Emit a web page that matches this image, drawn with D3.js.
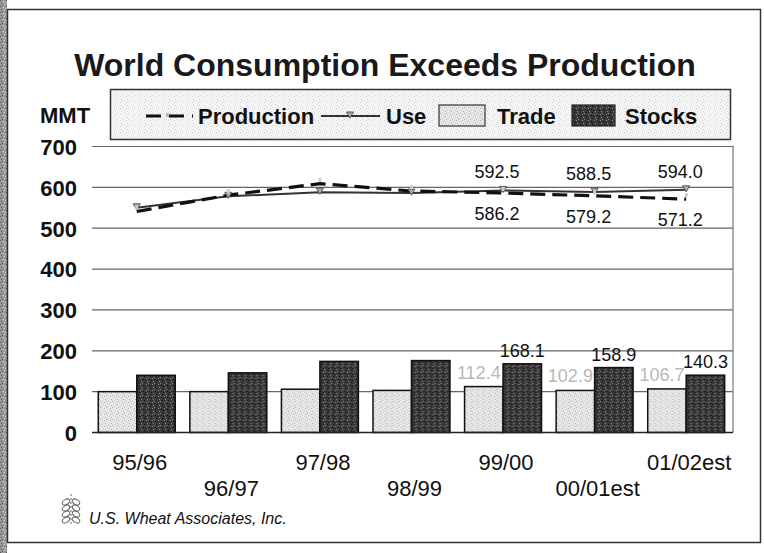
<!DOCTYPE html>
<html><head><meta charset="utf-8">
<script src="https://cdn.jsdelivr.net/npm/d3@7/dist/d3.min.js"></script>
<style>
html,body{margin:0;padding:0;background:#fff;}
svg{display:block;font-family:"Liberation Sans",Arial,sans-serif;}
</style></head>
<body>
<svg id="chart" width="764" height="553"></svg>
<script>
const categories = ["95/96","96/97","97/98","98/99","99/00","00/01est","01/02est"];
const production = [541, 581, 609, 591, 586.2, 579.2, 571.2];
const use = [550, 578, 588, 586, 592.5, 588.5, 594.0];
const trade = [100, 100, 106, 103, 112.4, 102.9, 106.7];
const stocks = [140, 146, 174, 176, 168.1, 158.9, 140.3];
const yTicks = [0, 100, 200, 300, 400, 500, 600, 700];
const labeledFrom = 4; // value labels shown for the last three seasons

(function () {
const svg = d3.select("#chart");
const defs = svg.append("defs");

function stipple(id, base, dots) {
  const p = defs.append("pattern").attr("id", id).attr("patternUnits", "userSpaceOnUse")
    .attr("width", 6).attr("height", 6);
  p.append("rect").attr("width", 6).attr("height", 6).attr("fill", base);
  [[0,0],[3,1],[1,3],[4,4],[2,5],[5,2]].forEach(([px,py],i) =>
    p.append("rect").attr("x", px).attr("y", py).attr("width", 1).attr("height", 1)
      .attr("fill", dots[i % dots.length]));
}
stipple("pTrade", "#e8e8e8", ["#a8a8a8", "#c8c8c8"]);
stipple("pStocks", "#3a3a3a", ["#8a8a8a", "#111"]);
stipple("pLegend", "#f6f6f6", ["#cfcfcf", "#e2e2e2"]);
stipple("pEdge", "#9a9a9a", ["#555", "#d0d0d0"]);

// page frame
svg.append("rect").attr("x", 0).attr("y", 0).attr("width", 7).attr("height", 553).attr("fill", "url(#pEdge)");
svg.append("rect").attr("x", 7.5).attr("y", 9.5).attr("width", 753).attr("height", 533)
  .attr("fill", "none").attr("stroke", "#333").attr("stroke-width", 1.5);

// title
svg.append("text").attr("x", 385).attr("y", 76).attr("text-anchor", "middle")
  .attr("font-size", 32).attr("font-weight", "bold").attr("fill", "#1a1a1a")
  .text("World Consumption Exceeds Production");

// scales
const pl = 92, pr = 733, pt = 146.5, pb = 432.5;
const x = d3.scaleBand().domain(categories).range([pl, pr]).paddingInner(0).paddingOuter(0);
const sub = d3.scaleBand().domain(["Trade", "Stocks"]).range([0, x.bandwidth()])
  .paddingInner(0).paddingOuter(0.19).align(0.43);
const y = d3.scaleLinear().domain([0, 700]).range([pb, pt]);

// gridlines
svg.append("g").selectAll("line").data(yTicks.filter(d => d > 0)).join("line")
  .attr("x1", pl).attr("x2", pr).attr("y1", d => y(d)).attr("y2", d => y(d))
  .attr("stroke", "#666").attr("stroke-width", 1.2);
svg.append("line").attr("x1", pr).attr("x2", pr).attr("y1", y(700) - 1).attr("y2", y(0))
  .attr("stroke", "#777").attr("stroke-width", 1.2);

// y axis labels
const yAxis = d3.axisLeft(y).tickValues(yTicks).tickSize(0).tickPadding(0);
const gy = svg.append("g").attr("transform", "translate(77,0)").call(yAxis);
gy.select(".domain").remove();
gy.selectAll("text").attr("font-size", 22).attr("font-weight", "bold").attr("fill", "#111")
  .attr("font-family", "Liberation Sans, Arial, sans-serif").attr("dy", "0.36em");
svg.append("text").attr("x", 40).attr("y", 123).attr("font-size", 22).attr("font-weight", "bold")
  .attr("fill", "#111").text("MMT");

// bars
const groups = svg.append("g").selectAll("g").data(categories).join("g")
  .attr("transform", d => `translate(${x(d)},0)`);
groups.append("rect").attr("x", sub("Trade")).attr("width", sub.bandwidth())
  .attr("y", (d, i) => y(trade[i])).attr("height", (d, i) => y(0) - y(trade[i]))
  .attr("fill", "url(#pTrade)").attr("stroke", "#111").attr("stroke-width", 1.5);
groups.append("rect").attr("x", sub("Stocks")).attr("width", sub.bandwidth())
  .attr("y", (d, i) => y(stocks[i])).attr("height", (d, i) => y(0) - y(stocks[i]))
  .attr("fill", "url(#pStocks)").attr("stroke", "#111").attr("stroke-width", 1.5);

svg.append("line").attr("x1", pl).attr("x2", pr).attr("y1", y(0)).attr("y2", y(0))
  .attr("stroke", "#222").attr("stroke-width", 1.5);

// lines
const px = (d, i) => x(categories[i]) + sub("Stocks");
const line = d3.line().x(px).y(d => y(d));
svg.append("path").datum(use).attr("d", line).attr("fill", "none")
  .attr("stroke", "#333").attr("stroke-width", 2);
svg.append("path").datum(production).attr("d", line).attr("fill", "none")
  .attr("stroke", "#111").attr("stroke-width", 3.2).attr("stroke-dasharray", "15,7");
const tri = d3.symbol().type(d3.symbolTriangle).size(22);
svg.append("g").selectAll("path").data(use).join("path")
  .attr("d", tri).attr("transform", (d, i) => `translate(${px(d, i)},${y(d) - 2}) rotate(180)`)
  .attr("fill", "#aaa").attr("stroke", "#444").attr("stroke-width", 0.8);
svg.append("g").selectAll("rect").data(production).join("rect")
  .attr("x", (d, i) => px(d, i) - 1.5).attr("y", d => y(d) - 6).attr("width", 3).attr("height", 4)
  .attr("fill", "#ccc");

// value labels
const lab = svg.append("g").attr("font-size", 18).attr("text-anchor", "middle");
const idx = d3.range(labeledFrom, categories.length);
lab.selectAll(".lu").data(idx).join("text").attr("class", "lu")
  .attr("x", i => px(null, i) - 6).attr("y", i => y(use[i]) - 12).attr("fill", "#111")
  .text(i => use[i].toFixed(1));
lab.selectAll(".lp").data(idx).join("text").attr("class", "lp")
  .attr("x", i => px(null, i) - 6).attr("y", i => y(production[i]) + 27).attr("fill", "#111")
  .text(i => production[i].toFixed(1));
lab.selectAll(".lt").data(idx).join("text").attr("class", "lt")
  .attr("x", i => x(categories[i]) + sub("Trade") + sub.bandwidth() / 2 - 5)
  .attr("y", i => y(trade[i]) - 8).attr("fill", "#b8b8b8")
  .text(i => trade[i].toFixed(1));
lab.selectAll(".ls").data(idx).join("text").attr("class", "ls")
  .attr("x", i => x(categories[i]) + sub("Stocks") + sub.bandwidth() / 2)
  .attr("y", i => y(stocks[i]) - 7).attr("fill", "#111")
  .text(i => stocks[i].toFixed(1));

// x labels (staggered)
svg.append("g").selectAll("text").data(categories).join("text")
  .attr("x", d => x(d) + x.bandwidth() / 2 + 2)
  .attr("y", (d, i) => i % 2 === 0 ? 470 : 496)
  .attr("text-anchor", "middle").attr("font-size", 22).attr("fill", "#111")
  .text(d => d);

// legend
const lg = svg.append("g");
lg.append("rect").attr("x", 110.5).attr("y", 89.5).attr("width", 620).attr("height", 50)
  .attr("fill", "url(#pLegend)").attr("stroke", "#333").attr("stroke-width", 1.5);
const ly = 116;
lg.append("line").attr("x1", 146).attr("x2", 193).attr("y1", ly).attr("y2", ly)
  .attr("stroke", "#111").attr("stroke-width", 3.2).attr("stroke-dasharray", "15,8");
lg.append("rect").attr("x", 166).attr("y", ly - 3).attr("width", 3).attr("height", 4).attr("fill", "#bbb");
lg.append("text").attr("x", 198).attr("y", ly + 8).attr("font-size", 22).attr("font-weight", "bold").attr("fill", "#111").text("Production");
lg.append("line").attr("x1", 321).attr("x2", 380).attr("y1", ly).attr("y2", ly)
  .attr("stroke", "#333").attr("stroke-width", 2);
lg.append("path").attr("d", tri).attr("transform", `translate(350,${ly - 2}) rotate(180)`)
  .attr("fill", "#aaa").attr("stroke", "#444").attr("stroke-width", 0.8);
lg.append("text").attr("x", 386).attr("y", ly + 8).attr("font-size", 22).attr("font-weight", "bold").attr("fill", "#111").text("Use");
lg.append("rect").attr("x", 439).attr("y", ly - 11).attr("width", 46).attr("height", 21)
  .attr("fill", "url(#pTrade)").attr("stroke", "#333").attr("stroke-width", 1.2);
lg.append("text").attr("x", 497).attr("y", ly + 8).attr("font-size", 22).attr("font-weight", "bold").attr("fill", "#111").text("Trade");
lg.append("rect").attr("x", 572).attr("y", ly - 11).attr("width", 43).attr("height", 21)
  .attr("fill", "url(#pStocks)").attr("stroke", "#222").attr("stroke-width", 1.2);
lg.append("text").attr("x", 625).attr("y", ly + 8).attr("font-size", 22).attr("font-weight", "bold").attr("fill", "#111").text("Stocks");

// logo + credit
const logo = svg.append("g").attr("transform", "translate(71,510)").attr("fill", "none").attr("stroke", "#666").attr("stroke-width", 1);
logo.append("line").attr("x1", 0).attr("x2", 0).attr("y1", -16).attr("y2", 16).attr("stroke-dasharray", "2,2");
[-8, -2, 4, 10].forEach(dy => {
  logo.append("ellipse").attr("cx", -5).attr("cy", dy).attr("rx", 4).attr("ry", 2.5).attr("transform", `rotate(-30,-5,${dy})`);
  logo.append("ellipse").attr("cx", 5).attr("cy", dy).attr("rx", 4).attr("ry", 2.5).attr("transform", `rotate(30,5,${dy})`);
});
svg.append("text").attr("x", 89).attr("y", 524).attr("font-size", 16).attr("font-style", "italic")
  .attr("fill", "#111").text("U.S. Wheat Associates, Inc.");
})();
</script>
</body></html>
